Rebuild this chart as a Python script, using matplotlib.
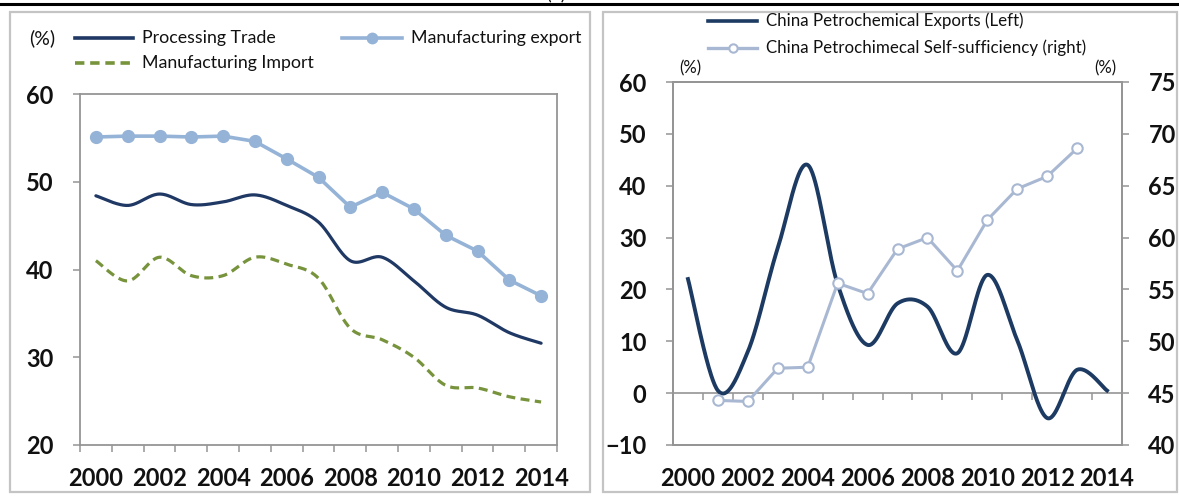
import numpy as np
import matplotlib
matplotlib.use("Agg")
import matplotlib.pyplot as plt
from matplotlib.lines import Line2D
from matplotlib.patches import Rectangle

plt.rcParams['font.family'] = ['Lato', 'DejaVu Sans']

# ---- data ----
years = list(range(2000, 2015))
year_labels = [str(y) for y in years[::2]]

processing_trade = [48.4, 47.3, 48.6, 47.4, 47.7, 48.5, 47.3, 45.4, 41.0, 41.4, 38.7, 35.7, 34.8, 32.8, 31.6]
manufacturing_export = [55.1, 55.2, 55.2, 55.1, 55.2, 54.6, 52.6, 50.5, 47.1, 48.8, 46.9, 43.9, 42.1, 38.8, 37.0]
manufacturing_import = [41.0, 38.7, 41.4, 39.3, 39.3, 41.4, 40.6, 39.0, 33.3, 32.0, 30.0, 26.8, 26.5, 25.5, 24.9]

petro_exports = [22.0, 0.5, 8.0, 28.0, 44.0, 21.0, 9.3, 17.3, 16.7, 7.7, 22.8, 10.2, -4.8, 4.5, 0.5]
petro_self_suff = [np.nan, 44.3, 44.2, 47.4, 47.5, 55.6, 54.6, 58.9, 60.0, 56.8, 61.7, 64.7, 65.9, 68.6, np.nan]

left_yticks = [20, 30, 40, 50, 60]
right_yticks_l = [-10, 0, 10, 20, 30, 40, 50, 60]
right_yticks_r = [40, 45, 50, 55, 60, 65, 70, 75]

# ---- styles ----
NAVY = '#1f3864'
NAVY2 = '#1c3a62'
LIGHT_BLUE = '#95b3d7'
OLIVE = '#77933c'
GRAY_BLUE = '#a9b8d2'
AXIS_GRAY = '#959595'
BOX_GRAY = '#c4c4c4'
TXT = '#111111'
TICK_FS = 17

W, H = 1179, 497


def fx(p):
    return p / W


def fy(p):
    return 1 - p / H


def smooth(xs, ys, n=40):
    """Catmull-Rom style smoothing through every point (Bezier, 1/6 tangents)."""
    pts = np.column_stack([np.asarray(xs, float), np.asarray(ys, float)])
    m = len(pts)
    out = []
    for i in range(m - 1):
        p0 = pts[max(i - 1, 0)]
        p1 = pts[i]
        p2 = pts[i + 1]
        p3 = pts[min(i + 2, m - 1)]
        c1 = p1 + (p2 - p0) / 6.0
        c2 = p2 - (p3 - p1) / 6.0
        t = np.linspace(0, 1, n)[:, None]
        seg = ((1 - t) ** 3) * p1 + 3 * ((1 - t) ** 2) * t * c1 + 3 * (1 - t) * t ** 2 * c2 + t ** 3 * p2
        out.append(seg if i == 0 else seg[1:])
    arr = np.vstack(out)
    return arr[:, 0], arr[:, 1]


fig = plt.figure(figsize=(W / 100, H / 100), dpi=100)

# panel frames and top rule
for x0, x1 in [(10, 590), (603, 1177)]:
    fig.add_artist(Rectangle((fx(x0), fy(492)), fx(x1) - fx(x0), fy(12) - fy(492),
                             transform=fig.transFigure, fill=False, ec=BOX_GRAY, lw=1.6))
fig.add_artist(Line2D([0, 1], [fy(4), fy(4)], transform=fig.transFigure, color='black', lw=2.2))
fig.text(fx(556), fy(3), "(b)", ha='center', va='bottom', fontsize=13, color=TXT)

x = np.arange(len(years))
bounds = np.arange(-0.5, len(years), 1.0)


def style_axes(ax):
    for sp in ax.spines.values():
        sp.set_color(AXIS_GRAY)
        sp.set_linewidth(1.3)
    ax.set_xlim(-0.5, len(years) - 0.5)
    ax.set_xticks(x[::2])
    ax.set_xticklabels(year_labels, fontsize=TICK_FS, fontweight='bold', color=TXT)
    ax.tick_params(axis='x', which='major', length=0, pad=16)
    ax.tick_params(axis='y', length=5, width=1.1, color=AXIS_GRAY, pad=14,
                   labelsize=TICK_FS, labelcolor=TXT)
    for lab in ax.get_yticklabels():
        lab.set_fontweight('bold')


# ---- left panel ----
ax1 = fig.add_axes([fx(80), fy(445), fx(557) - fx(80), fy(94) - fy(445)])
ax1.plot(*smooth(x, processing_trade), color=NAVY, lw=2.3, solid_capstyle='round')
ax1.plot(*smooth(x, manufacturing_import), color=OLIVE, lw=2.3, linestyle=(0, (2.8, 1.7)))
ax1.plot(x, manufacturing_export, color=LIGHT_BLUE, lw=2.6, marker='o', ms=8.5,
         mfc=LIGHT_BLUE, mec=LIGHT_BLUE)
ax1.set_ylim(20, 60)
ax1.set_yticks(left_yticks)
style_axes(ax1)
ax1.set_xticks(bounds, minor=True)
ax1.tick_params(axis='x', which='minor', length=5, width=1.1, color=AXIS_GRAY)
for lab in ax1.get_yticklabels():
    lab.set_fontweight('bold')

fig.text(fx(42), fy(38), "(%)", ha='center', va='center', fontsize=14, color=TXT)


def legend_entry(x0, x1, y, text, fontsize, marker=None, mfc=None, mec=None, ms=None, **style):
    fig.add_artist(Line2D([fx(x0), fx(x1)], [fy(y), fy(y)], transform=fig.transFigure, **style))
    if marker:
        fig.add_artist(Line2D([fx((x0 + x1) / 2)], [fy(y)], transform=fig.transFigure,
                              marker=marker, mfc=mfc, mec=mec, ms=ms, lw=0,
                              mew=style.get('mew', 1.5)))
    fig.text(fx(x1 + 9), fy(y), text, ha='left', va='center', fontsize=fontsize, color=TXT)


legend_entry(75, 133, 38, "Processing Trade", 12.8, color=NAVY, lw=2.6)
legend_entry(75, 133, 63, "Manufacturing Import", 12.8, color=OLIVE, lw=2.6,
             linestyle=(0, (2.6, 1.6)))
legend_entry(342, 402, 38, "Manufacturing export", 12.8, color=LIGHT_BLUE, lw=2.6,
             marker='o', mfc=LIGHT_BLUE, mec=LIGHT_BLUE, ms=7)

# ---- right panel ----
ax2 = fig.add_axes([fx(673), fy(445), fx(1122) - fx(673), fy(82) - fy(445)])
ax2.plot(*smooth(x, petro_exports), color=NAVY2, lw=2.8, zorder=3)
ax2.set_ylim(-10, 60)
ax2.set_yticks(right_yticks_l)
style_axes(ax2)

zero_axis = ax2.secondary_xaxis(10 / 70)
zero_axis.set_xticks(bounds)
zero_axis.tick_params(axis='x', length=5, width=1.1, color=AXIS_GRAY, labelbottom=False)
zero_axis.spines['bottom'].set_color(AXIS_GRAY)
zero_axis.spines['bottom'].set_linewidth(1.2)

ax2r = ax2.twinx()
ax2r.plot(x, petro_self_suff, color=GRAY_BLUE, lw=2.2, marker='o', ms=7.5,
          mfc='white', mec=GRAY_BLUE, mew=1.5)
ax2r.set_ylim(40, 75)
ax2r.set_yticks(right_yticks_r)
for sp in ax2r.spines.values():
    sp.set_color(AXIS_GRAY)
    sp.set_linewidth(1.3)
ax2r.tick_params(axis='y', length=5, width=1.1, color=AXIS_GRAY, pad=14,
                 labelsize=TICK_FS, labelcolor=TXT)
for lab in ax2r.get_yticklabels():
    lab.set_fontweight('bold')

fig.text(fx(690), fy(68), "(%)", ha='center', va='center', fontsize=12, color=TXT)
fig.text(fx(1105), fy(68), "(%)", ha='center', va='center', fontsize=12, color=TXT)

legend_entry(708, 757, 21, "China Petrochemical Exports (Left)", 12.2, color=NAVY2, lw=2.6)
legend_entry(708, 757, 48, "China Petrochimecal Self-sufficiency (right)", 12.2,
             color=GRAY_BLUE, lw=2.4, marker='o', mfc='white', mec=GRAY_BLUE, ms=6)

fig.savefig("out.png", dpi=100)
